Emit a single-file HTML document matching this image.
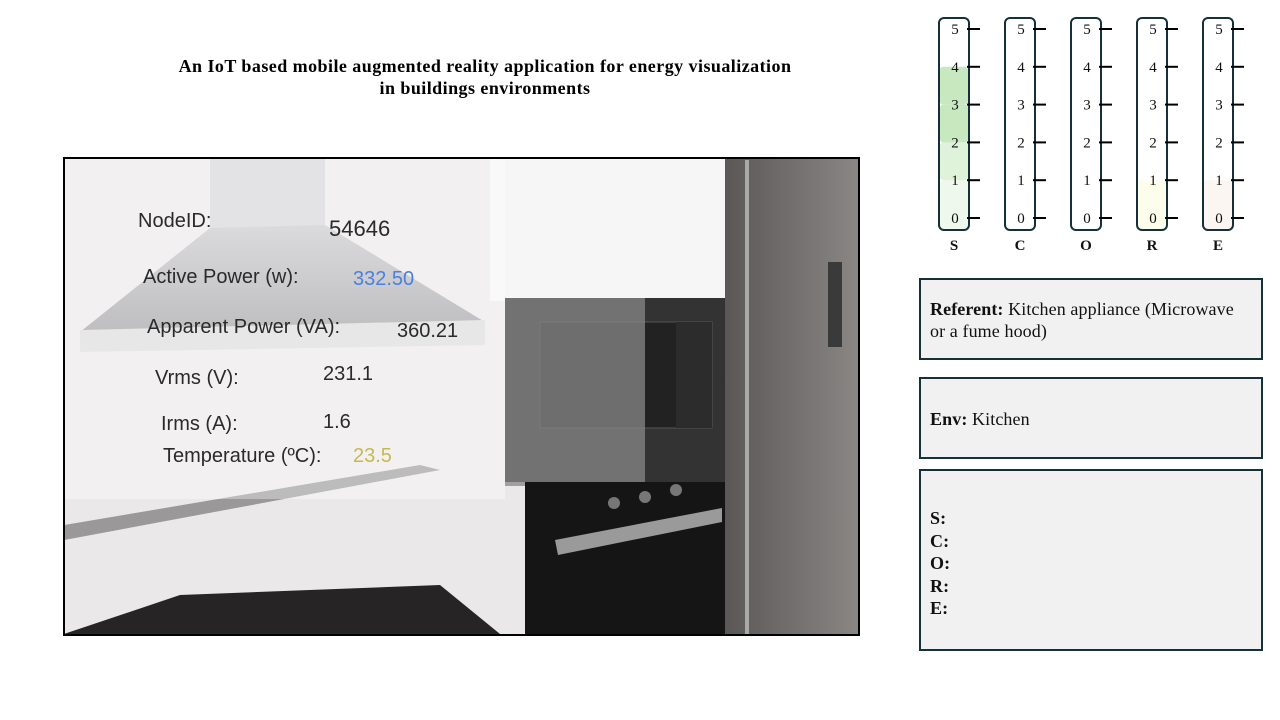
<!DOCTYPE html>
<html><head><meta charset="utf-8"><style>
body{margin:0;width:1280px;height:720px;background:#fff;position:relative;overflow:hidden;font-family:"Liberation Serif",serif}
.abs{position:absolute}
.t{position:absolute;font-family:"Liberation Sans",sans-serif;font-size:20px;color:#2a2a2a;white-space:nowrap}
.box{position:absolute;left:919px;width:344px;border:2px solid #16303a;background:#f1f1f1;font-size:18px;color:#111;box-sizing:border-box;padding:0 9px;letter-spacing:0.1px}
</style></head><body>
<div class="abs" style="left:100px;top:55px;width:770px;text-align:center;font-size:18px;letter-spacing:0.45px;font-weight:bold;line-height:22px">An IoT based mobile augmented reality application for energy visualization<br>in buildings environments</div>

<div class="abs" style="left:63px;top:157px;width:797px;height:479px;border:2px solid #000;box-sizing:border-box;overflow:hidden">
<svg width="793" height="475" viewBox="65 159 793 475" style="display:block">
<defs><linearGradient id="fr" x1="0" x2="1"><stop offset="0" stop-color="#5a5756"/><stop offset="1" stop-color="#8a8684"/></linearGradient>
<linearGradient id="hd" x1="0" y1="0" x2="0" y2="1"><stop offset="0" stop-color="#c8c7ca"/><stop offset="1" stop-color="#9c9ba0"/></linearGradient></defs>
<rect x="65" y="159" width="793" height="475" fill="#ebe8ea"/>
<rect x="210" y="159" width="115" height="75" fill="#d4d3d6"/>
<polygon points="210,228 325,225 485,322 80,332" fill="url(#hd)"/>
<polygon points="80,330 485,320 485,345 80,352" fill="#dcdadc"/>
<rect x="490" y="159" width="235" height="142" fill="#f6f6f6"/>
<rect x="505" y="298" width="222" height="184" fill="#333"/>
<rect x="540" y="322" width="172" height="106" fill="#222" stroke="#555"/>
<rect x="676" y="322" width="36" height="106" fill="#2c2c2c"/>
<rect x="505" y="298" width="140" height="188" fill="#888" opacity="0.75"/>
<rect x="525" y="482" width="222" height="153" fill="#151515"/>
<polygon points="555,540 722,508 722,522 558,555" fill="#9a9a9a"/>
<circle cx="614" cy="503" r="6" fill="#777"/><circle cx="645" cy="497" r="6" fill="#777"/><circle cx="676" cy="490" r="6" fill="#777"/>
<rect x="725" y="159" width="133" height="476" fill="url(#fr)"/>
<rect x="745" y="160" width="4" height="475" fill="#aaa"/>
<rect x="828" y="262" width="14" height="85" fill="#3a3a3a"/>
<polygon points="64,525 420,465 440,470 64,540" fill="#9a9898"/>
<polygon points="64,634 180,595 440,585 500,634" fill="#262424"/>
<rect x="65" y="159" width="440" height="340" fill="#fff" opacity="0.35"/>
</svg>
<div class="t" style="left:73px;top:51px">NodeID:</div>
<div class="t" style="left:264px;top:57px;font-size:22px">54646</div>
<div class="t" style="left:78px;top:107px">Active Power (w):</div>
<div class="t" style="left:288px;top:109px;color:#4a80e0">332.50</div>
<div class="t" style="left:82px;top:157px">Apparent Power (VA):</div>
<div class="t" style="left:332px;top:161px">360.21</div>
<div class="t" style="left:90px;top:208px">Vrms (V):</div>
<div class="t" style="left:258px;top:204px">231.1</div>
<div class="t" style="left:96px;top:254px">Irms (A):</div>
<div class="t" style="left:258px;top:252px">1.6</div>
<div class="t" style="left:98px;top:286px">Temperature (ºC):</div>
<div class="t" style="left:288px;top:286px;color:#c8b850">23.5</div>
</div>

<svg id="gauges" class="abs" style="left:0;top:0" width="1280" height="270"></svg>

<div class="box" style="top:278px;height:82px;padding-top:18px;line-height:22px"><b>Referent:</b> Kitchen appliance (Microwave or a fume hood)</div>
<div class="box" style="top:377px;height:82px;padding-top:30px"><b>Env:</b> Kitchen</div>
<div class="box" style="top:469px;height:182px;padding-top:36px;line-height:22.5px;font-weight:bold">S:<br>C:<br>O:<br>R:<br>E:</div>

<script>
const categories=['S','C','O','R','E'];
const scores=[4,0,0,1,1];
const ticks=[0,1,2,3,4,5];
const fillColors={S:['#eef8ec','#dff2da','#c8e9c0','#c8e9c0','#b6e2a8'],C:[],O:[],R:['#fdfdec','#fafad0'],E:['#fcf6f3','#faeae4']};
const NS='http://www.w3.org/2000/svg';
const svg=document.getElementById('gauges');
const gx=i=>939+i*66;
const gy=v=>218-v*37.8;
function mk(t,a){const e=document.createElementNS(NS,t);for(const k in a)e.setAttribute(k,a[k]);svg.appendChild(e);return e;}
categories.forEach((c,i)=>{
  const x=gx(i);
  const cols=fillColors[c];
  for(let s=0;s<scores[i];s++){
    const top=gy(s+1);
    const bot=s===0?229:gy(s);
    const r=mk('rect',{x:x+1,y:top,width:28,height:bot-top,fill:cols[s]||'#ddd',rx:3});
    
    
  }
  const g=mk('rect',{x:x,y:18,width:30,height:212,rx:5,fill:'none',stroke:'#16303a','stroke-width':2});
  
  
  ticks.forEach(v=>{
    const l=mk('line',{x1:x+28,x2:x+41,y1:gy(v),y2:gy(v),stroke:'#000','stroke-width':2});
    
    
    const t=mk('text',{x:x+16,y:gy(v)+5,'text-anchor':'middle','font-size':15,'font-family':'Liberation Serif, serif',fill:'#111'});
    t.textContent=v;
    
    
  });
  const lb=mk('text',{x:x+15,y:250,'text-anchor':'middle','font-size':15,'font-weight':'bold','font-family':'Liberation Serif, serif',fill:'#111'});
  lb.textContent=c;
  
  
});
</script>
</body></html>
